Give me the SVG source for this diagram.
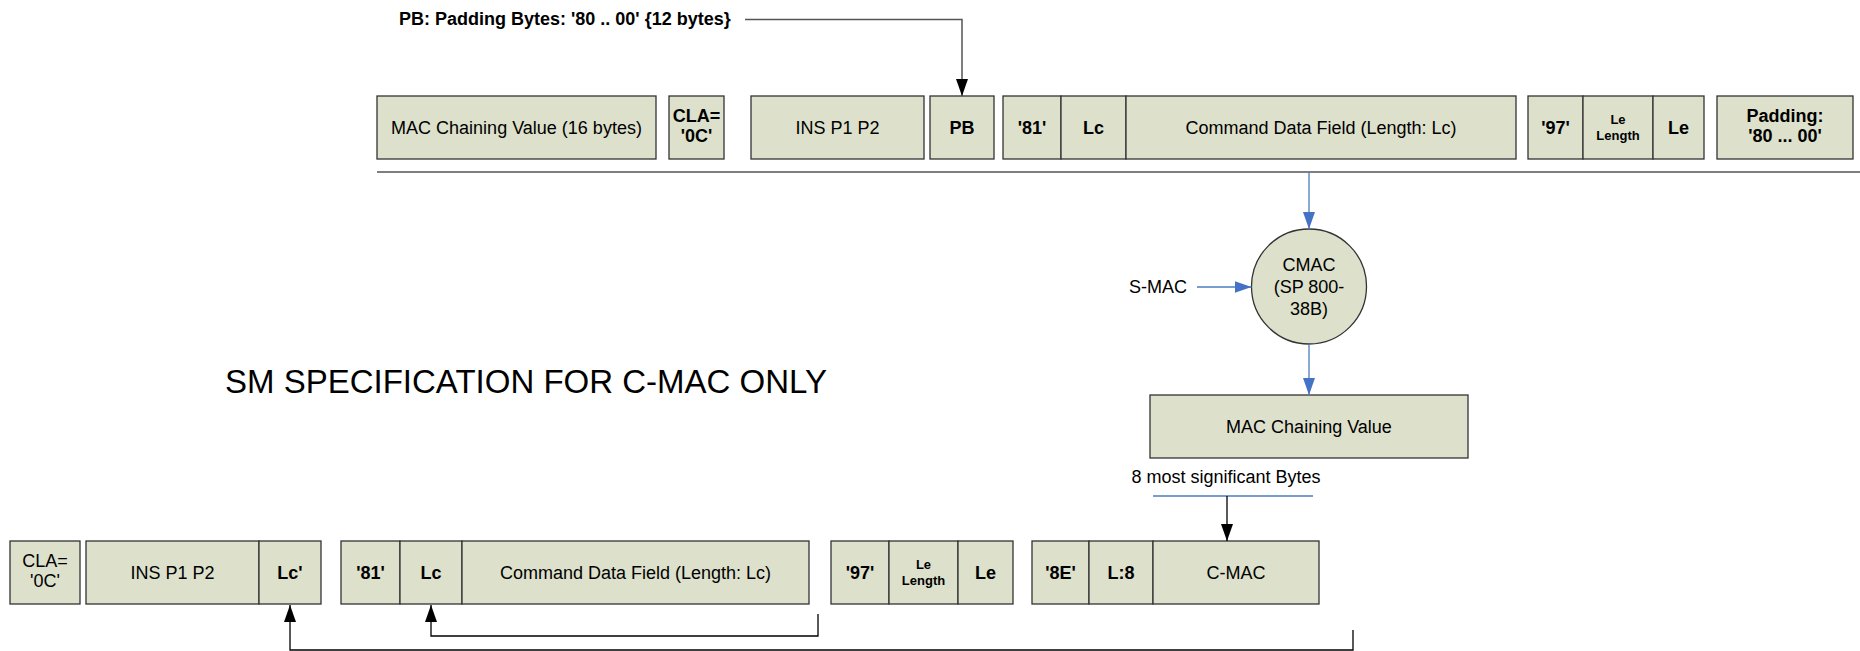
<svg xmlns="http://www.w3.org/2000/svg" width="1860" height="651" viewBox="0 0 1860 651">
<style>
  .box { fill: #dde0cb; stroke: #333; stroke-width: 1.3; }
  .t { font-family: "Liberation Sans", Arial, sans-serif; font-size: 18px; fill: #000; text-anchor: middle; }
  .b { font-weight: bold; }
  .s { font-size: 13px; }
  .blk { fill: none; stroke: #000; stroke-width: 1.3; }
  .gry { fill: none; stroke: #555; stroke-width: 1.5; }
  .blu { fill: none; stroke: #4a7ebb; stroke-width: 1.3; }
</style>
<defs>
  <marker id="ab" markerUnits="userSpaceOnUse" markerWidth="17" markerHeight="12" refX="17" refY="6" orient="auto">
    <path d="M0,0 L17,6 L0,12 z" fill="#000"/>
  </marker>
  <marker id="au" markerUnits="userSpaceOnUse" markerWidth="17" markerHeight="12" refX="17" refY="6" orient="auto">
    <path d="M0,0 L17,6 L0,12 z" fill="#4472c4"/>
  </marker>
</defs>
<rect width="1860" height="651" fill="#fff"/>

<!-- Top row -->
<g id="top-mac"><rect class="box" x="377" y="96" width="279" height="63"/><text class="t" x="516.5" y="134">MAC Chaining Value (16 bytes)</text></g>
<g id="top-cla"><rect class="box" x="669" y="96" width="55" height="63"/><text class="t b" x="696.5" y="122">CLA=</text><text class="t b" x="696.5" y="142">'0C'</text></g>
<g id="top-ins"><rect class="box" x="751" y="96" width="173" height="63"/><text class="t" x="837.5" y="134">INS P1 P2</text></g>
<g id="top-pb"><rect class="box" x="930" y="96" width="64" height="63"/><text class="t b" x="962" y="134">PB</text></g>
<g id="top-81"><rect class="box" x="1003" y="96" width="58" height="63"/><text class="t b" x="1032" y="134">'81'</text></g>
<g id="top-lc"><rect class="box" x="1061" y="96" width="65" height="63"/><text class="t b" x="1093.5" y="134">Lc</text></g>
<g id="top-cdf"><rect class="box" x="1126" y="96" width="390" height="63"/><text class="t" x="1321" y="134">Command Data Field (Length: Lc)</text></g>
<g id="top-97"><rect class="box" x="1528" y="96" width="55" height="63"/><text class="t b" x="1555.5" y="134">'97'</text></g>
<g id="top-lelen"><rect class="box" x="1583" y="96" width="70" height="63"/><text class="t b s" x="1618" y="124">Le</text><text class="t b s" x="1618" y="140">Length</text></g>
<g id="top-le"><rect class="box" x="1653" y="96" width="51" height="63"/><text class="t b" x="1678.5" y="134">Le</text></g>
<g id="top-pad"><rect class="box" x="1717" y="96" width="136" height="63"/><text class="t b" x="1785" y="122">Padding:</text><text class="t b" x="1785" y="142">'80 ... 00'</text></g>

<!-- Label texts -->
<g id="pb-label"><text class="t b" x="399" y="25" style="text-anchor:start">PB: Padding Bytes: '80 .. 00' {12 bytes}</text></g>
<g id="title"><text class="t" x="225" y="393" style="text-anchor:start;font-size:33px">SM SPECIFICATION FOR C-MAC ONLY</text></g>
<g id="smac"><text class="t" x="1158" y="293">S-MAC</text></g>
<g id="msb"><text class="t" x="1226" y="483">8 most significant Bytes</text></g>

<!-- CMAC circle -->
<g id="cmac"><circle class="box" cx="1309" cy="286.5" r="57.5"/><text class="t" x="1309" y="271">CMAC</text><text class="t" x="1309" y="293">(SP 800-</text><text class="t" x="1309" y="315">38B)</text></g>

<!-- MAC chaining value -->
<g id="mcv"><rect class="box" x="1150" y="395" width="318" height="63"/><text class="t" x="1309" y="433">MAC Chaining Value</text></g>

<!-- Bottom row -->
<g id="bot-cla"><rect class="box" x="10" y="541" width="70" height="63"/><text class="t" x="45" y="567">CLA=</text><text class="t" x="45" y="587">'0C'</text></g>
<g id="bot-ins"><rect class="box" x="86" y="541" width="173" height="63"/><text class="t" x="172.5" y="579">INS P1 P2</text></g>
<g id="bot-lcp"><rect class="box" x="259" y="541" width="62" height="63"/><text class="t b" x="290" y="579">Lc'</text></g>
<g id="bot-81"><rect class="box" x="341" y="541" width="59" height="63"/><text class="t b" x="370.5" y="579">'81'</text></g>
<g id="bot-lc"><rect class="box" x="400" y="541" width="62" height="63"/><text class="t b" x="431" y="579">Lc</text></g>
<g id="bot-cdf"><rect class="box" x="462" y="541" width="347" height="63"/><text class="t" x="635.5" y="579">Command Data Field (Length: Lc)</text></g>
<g id="bot-97"><rect class="box" x="831" y="541" width="58" height="63"/><text class="t b" x="860" y="579">'97'</text></g>
<g id="bot-lelen"><rect class="box" x="889" y="541" width="69" height="63"/><text class="t b s" x="923.5" y="569">Le</text><text class="t b s" x="923.5" y="585">Length</text></g>
<g id="bot-le"><rect class="box" x="958" y="541" width="55" height="63"/><text class="t b" x="985.5" y="579">Le</text></g>
<g id="bot-8e"><rect class="box" x="1032" y="541" width="57" height="63"/><text class="t b" x="1060.5" y="579">'8E'</text></g>
<g id="bot-l8"><rect class="box" x="1089" y="541" width="64" height="63"/><text class="t b" x="1121" y="579">L:8</text></g>
<g id="bot-cmac"><rect class="box" x="1153" y="541" width="166" height="63"/><text class="t" x="1236" y="579">C-MAC</text></g>

<!-- Connectors -->
<g id="connectors">
  <polyline class="gry" points="745,19.5 962,19.5 962,96" marker-end="url(#ab)"/>
  <line class="gry" x1="377" y1="172" x2="1860" y2="172"/>
  <line class="blu" x1="1309" y1="172" x2="1309" y2="229" marker-end="url(#au)"/>
  <line class="blu" x1="1197" y1="287" x2="1251.5" y2="287" marker-end="url(#au)"/>
  <line class="blu" x1="1309" y1="344" x2="1309" y2="395" marker-end="url(#au)"/>
  <line class="blu" x1="1153" y1="496" x2="1313" y2="496"/>
  <line class="blk" x1="1227" y1="496" x2="1227" y2="541" marker-end="url(#ab)"/>
  <polyline class="blk" points="818,614 818,636 431,636 431,605" marker-end="url(#ab)"/>
  <polyline class="blk" points="1353,630 1353,650 290,650 290,605" marker-end="url(#ab)"/>
</g>
</svg>
